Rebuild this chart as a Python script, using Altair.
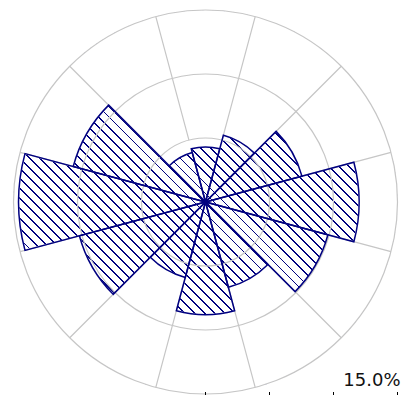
import math
import altair as alt
import pandas as pd

# ---- data ----
directions = [0, 30, 60, 90, 120, 150, 180, 210, 240, 270, 300, 330]
frequency = [4.3, 5.4, 7.8, 12.0, 9.9, 6.9, 8.8, 6.1, 10.2, 14.6, 10.7, 4.0]
ring_values = [5, 10, 15]
spoke_angles = [15, 45, 75, 105, 135, 165, 195, 225, 255, 285, 315, 345]
tick_values = [0, 5, 10, 15]
scale_label = "15.0%"

SECTOR = 30
R_MAX = 15
R_PX = 192
W, H = 393, 387
CX, CY = 197.5, 194
NAVY = "#000080"
GRID = "#c6c6c6"

wedges = pd.DataFrame({"dir": directions, "freq": frequency})
wedges["t0"] = wedges["dir"] - SECTOR / 2
wedges["t1"] = wedges["dir"] + SECTOR / 2
wedges["outer"] = R_MAX

rings = pd.DataFrame({"r": ring_values, "t0": 0, "t1": 360})
spokes = pd.DataFrame({"a": spoke_angles, "r0": ring_values[0], "r1": ring_values[-1]})
ticks = pd.DataFrame({"v": tick_values})
label = pd.DataFrame({"v": [tick_values[-1]], "txt": [scale_label]})
disc = pd.DataFrame({"t0": [0], "t1": [360], "r": [R_MAX]})

theta_scale = alt.Scale(type="linear", domain=[0, 360], range=[0, 2 * math.pi], zero=False, nice=False)
radius_scale = alt.Scale(type="linear", domain=[0, R_MAX], range=[0, R_PX], zero=True, nice=False)
x_scale = alt.Scale(type="linear", domain=[0, R_MAX], range=[CX, CX + R_PX], zero=False, nice=False)

# hatch pattern as a striped linear gradient (style only)
diag = 2 * R_PX * math.sqrt(2)
period = 7.1 / diag
lw = 1.3 / diag
stops = []
k = 0
while k * period < 1:
    o = k * period
    o2 = min(o + lw, 1)
    stops += [
        alt.GradientStop(color="white", offset=o),
        alt.GradientStop(color=NAVY, offset=o),
        alt.GradientStop(color=NAVY, offset=o2),
        alt.GradientStop(color="white", offset=o2),
    ]
    k += 1
hatch = alt.LinearGradient(gradient="linear", stops=stops, x1=0, y1=1, x2=1, y2=0)

center = dict(x=alt.value(CX), y=alt.value(CY))

stripes = alt.Chart(disc).mark_arc(fill=hatch, strokeWidth=0).encode(
    theta=alt.Theta("t0:Q", scale=theta_scale, stack=None),
    theta2="t1:Q",
    radius=alt.Radius("r:Q", scale=radius_scale),
    **center,
)

covers = alt.Chart(wedges).mark_arc(fill="white", stroke="white", strokeWidth=1).encode(
    theta=alt.Theta("t0:Q", scale=theta_scale, stack=None),
    theta2="t1:Q",
    radius=alt.Radius("freq:Q", scale=radius_scale),
    radius2="outer:Q",
    **center,
)

grid_rings = alt.Chart(rings).mark_arc(filled=False, stroke=GRID, strokeWidth=1.2).encode(
    theta=alt.Theta("t0:Q", scale=theta_scale, stack=None),
    theta2="t1:Q",
    radius=alt.Radius("r:Q", scale=radius_scale),
    **center,
)

grid_spokes = alt.Chart(spokes).mark_arc(filled=False, stroke=GRID, strokeWidth=1.2).encode(
    theta=alt.Theta("a:Q", scale=theta_scale, stack=None),
    theta2="a:Q",
    radius=alt.Radius("r1:Q", scale=radius_scale),
    radius2="r0:Q",
    **center,
)

outlines = alt.Chart(wedges).mark_arc(filled=False, stroke=NAVY, strokeWidth=1.5).encode(
    theta=alt.Theta("t0:Q", scale=theta_scale, stack=None),
    theta2="t1:Q",
    radius=alt.Radius("freq:Q", scale=radius_scale),
    **center,
)

tick_marks = alt.Chart(ticks).mark_rule(color="black", strokeWidth=1).encode(
    x=alt.X("v:Q", scale=x_scale, axis=None),
    y=alt.value(384),
    y2=alt.value(387),
)

tick_text = alt.Chart(label).mark_text(
    align="right", baseline="alphabetic", dx=3, font="DejaVu Sans", fontSize=18, color="#111111"
).encode(
    x=alt.X("v:Q", scale=x_scale, axis=None),
    y=alt.value(378),
    text="txt:N",
)

chart = alt.layer(stripes, covers, grid_rings, grid_spokes, outlines, tick_marks, tick_text).properties(
    width=W,
    height=H,
    autosize=alt.AutoSizeParams(type="none"),
    padding=0,
).configure_view(strokeWidth=0)

chart.save("out.html", embed_options={"renderer": "svg", "actions": False})
